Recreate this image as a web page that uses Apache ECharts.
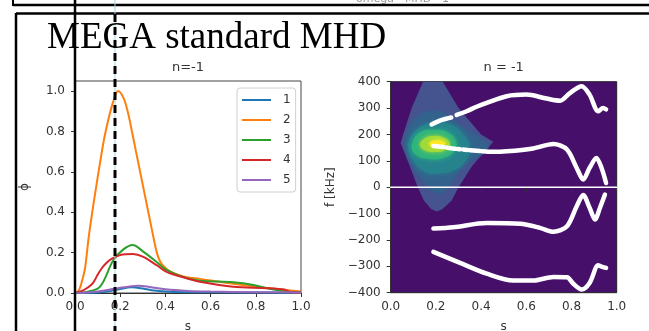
<!DOCTYPE html>
<html><head><meta charset="utf-8">
<script src="https://cdn.jsdelivr.net/npm/echarts@6/dist/echarts.min.js"></script>
<style>html,body{margin:0;padding:0;background:#fff;overflow:hidden}#c{width:649px;height:331px}</style>
</head><body><div id="c"></div>
<script>
// ---------- data ----------
const sTicks = [0, 0.2, 0.4, 0.6, 0.8, 1.0];
const phiTicks = [0, 0.2, 0.4, 0.6, 0.8, 1.0];
const fTicks = [-400, -300, -200, -100, 0, 100, 200, 300, 400];
const modeNames = ['1', '2', '3', '4', '5'];
const mode1 = [[0,0],[0.1,0.002],[0.15,0.008],[0.2,0.02],[0.25,0.028],[0.3,0.022],[0.35,0.012],[0.4,0.007],[0.5,0.004],[0.7,0.003],[1.0,0.001]];
const mode2 = [[0,0],[0.01,0.005],[0.02,0.02],[0.03,0.055],[0.044,0.12],[0.06,0.27],[0.075,0.39],[0.09,0.5],[0.11,0.64],[0.13,0.77],[0.15,0.87],[0.17,0.95],[0.19,1.0],[0.215,0.965],[0.235,0.89],[0.252,0.8],[0.27,0.7],[0.29,0.59],[0.31,0.48],[0.33,0.37],[0.35,0.26],[0.362,0.2],[0.375,0.16],[0.39,0.135],[0.41,0.115],[0.435,0.1],[0.494,0.078],[0.553,0.07],[0.7,0.046],[0.85,0.025],[1.0,0.008]];
const mode3 = [[0,0],[0.05,0.005],[0.11,0.03],[0.17,0.163],[0.214,0.216],[0.255,0.238],[0.302,0.205],[0.36,0.155],[0.405,0.114],[0.48,0.078],[0.553,0.061],[0.7,0.053],[0.79,0.04],[0.85,0.024],[0.93,0.008],[1.0,0.003]];
const mode4 = [[0,0],[0.03,0.01],[0.06,0.03],[0.08,0.05],[0.1,0.09],[0.12,0.125],[0.14,0.15],[0.16,0.168],[0.2,0.188],[0.257,0.193],[0.3,0.18],[0.36,0.139],[0.405,0.105],[0.494,0.073],[0.553,0.056],[0.7,0.031],[0.85,0.024],[0.93,0.016],[0.95,0.005],[1.0,0.002]];
const mode5 = [[0,0],[0.05,0.003],[0.1,0.008],[0.15,0.016],[0.2,0.026],[0.25,0.034],[0.28,0.036],[0.33,0.03],[0.4,0.018],[0.5,0.01],[0.6,0.007],[0.8,0.004],[1.0,0.002]];
const modes = [mode1, mode2, mode3, mode4, mode5];

// spectrum contour levels (s, f[kHz])
const level1 = [[0.143,400],[0.093,300],[0.055,200],[0.044,168],[0.08,90],[0.12,0],[0.147,-50],[0.18,-84],[0.204,-92],[0.228,-84],[0.27,-50],[0.30,0],[0.36,80],[0.454,172],[0.40,200],[0.30,300],[0.23,400]];
const level2 = [[0.18,288],[0.12,268],[0.08,222],[0.065,168],[0.085,100],[0.14,30],[0.21,-22],[0.27,20],[0.32,80],[0.43,150],[0.40,180],[0.30,240],[0.24,278]];
const level3 = [[0.21,246],[0.14,232],[0.09,192],[0.078,150],[0.10,100],[0.15,60],[0.21,52],[0.28,64],[0.33,100],[0.35,150],[0.32,202],[0.27,236]];
const level4 = [[0.19,218],[0.125,205],[0.095,165],[0.105,128],[0.16,108],[0.23,110],[0.28,135],[0.292,165],[0.26,205]];
const level5 = [[0.19,195],[0.145,182],[0.13,160],[0.15,140],[0.2,133],[0.25,145],[0.262,165],[0.235,188]];
const level6 = [[0.2,178],[0.172,168],[0.18,155],[0.21,152],[0.24,160],[0.238,172]];
const levels = [level1, level2, level3, level4, level5, level6];

// continuum branches (segments)
const branchUpper = [
  [[0.181,238],[0.2,246],[0.23,256],[0.268,264]],
  [[0.292,274],[0.336,288],[0.38,305],[0.425,320],[0.513,345],[0.60,351],[0.69,336],[0.75,328],[0.793,357],[0.845,383],[0.88,351],[0.918,288],[0.94,300],[0.953,295]]
];
const branchLowerPos = [
  [[0.189,156],[0.211,154],[0.233,152]],
  [[0.248,150],[0.265,148]],
  [[0.274,147],[0.285,146]],
  [[0.295,145],[0.307,144]],
  [[0.321,143],[0.339,141]],
  [[0.351,140],[0.395,137]],
  [[0.405,136],[0.45,134],[0.513,136],[0.63,147],[0.72,164],[0.78,143],[0.823,73],[0.852,29],[0.88,73],[0.91,111],[0.933,73],[0.953,16]]
];
const branchLowerNeg = [
  [[0.189,-157],[0.277,-152],[0.425,-136],[0.572,-139],[0.66,-154],[0.72,-169],[0.78,-148],[0.823,-72],[0.852,-30],[0.88,-78],[0.904,-122],[0.926,-78],[0.948,-28]]
];
const branchBottom = [
  [[0.189,-245],[0.307,-287],[0.425,-328],[0.543,-354],[0.63,-354],[0.72,-340],[0.78,-341],[0.808,-366],[0.845,-388],[0.88,-363],[0.918,-296],[0.93,-300],[0.953,-306]]
];
const zeroLine = [[0,0],[1,0]];

// ---------- styles ----------
const modeColors = ['#1f77b4','#ff7f0e','#2ca02c','#d62728','#9467bd'];
const levelColors = ['#45548f','#33638d','#26838e','#2fb47c','#a0da39','#fde725'];
const levelBlur = [0, 3, 5, 5, 5, 4];
const FONT = 'DejaVu Sans';
const TXT = '#333';

const chart = echarts.init(document.getElementById('c'), null, {renderer:'canvas'});

const tickLab = (ticks, fmt) => v => ticks.some(t => Math.abs(t - v) < 1e-9) ? fmt(v) : '';
const axisCommon = {
  axisLine: {show:true, lineStyle:{color:'#333', width:1}},
  axisTick: {show:true, length:4, lineStyle:{color:'#333'}},
  splitLine: {show:false},
  nameTextStyle: {fontFamily: FONT, fontSize: 12, color: TXT}
};
const labX = {fontFamily: FONT, fontSize: 12, color: TXT, margin: 8};
const labY = {fontFamily: FONT, fontSize: 12, color: TXT, margin: 10};

const series = [];
modes.forEach((m, i) => series.push({
  name: modeNames[i], type:'line', xAxisIndex:0, yAxisIndex:0, data:m,
  showSymbol:false, smooth:0.35, lineStyle:{color:modeColors[i], width:2}, itemStyle:{color:modeColors[i]}, silent:true
}));
series.push({
  type:'custom', xAxisIndex:1, yAxisIndex:1, silent:true,
  data: levels.map((lv, i) => [lv[0][0], lv[0][1], i]),
  renderItem: (params, api) => {
    const i = params.dataIndex;
    const lv = levels[i];
    return {type:'polygon', shape:{points: lv.map(p => api.coord(p)), smooth: i === 0 ? 0 : 0.45},
      style:{fill: levelColors[i], shadowBlur: levelBlur[i], shadowColor: levelColors[i]}};
  }, z:2
});
const whiteLine = (data, w) => ({type:'line', xAxisIndex:1, yAxisIndex:1, data, showSymbol:false, smooth:0.3,
  lineStyle:{color:'#fff', width:w, cap:'round'}, silent:true, z:3});
series.push(whiteLine(zeroLine, 1.5));
[branchUpper, branchLowerPos, branchLowerNeg, branchBottom].forEach(b => b.forEach(seg => series.push(whiteLine(seg, 4.5))));

chart.setOption({
  animation:false,
  backgroundColor:'#fff',
  grid:[
    {left:75, top:81, width:226, height:212, show:true, borderColor:'#444', borderWidth:1, backgroundColor:'transparent', outerBoundsMode:'none', containLabel:false},
    {left:390.7, top:81.7, width:226, height:211, show:true, borderColor:'#222', borderWidth:1, backgroundColor:'#46106a', outerBoundsMode:'none', containLabel:false}
  ],
  xAxis:[
    Object.assign({type:'value', gridIndex:0, min:0, max:1, interval:0.2, name:'s', nameLocation:'middle', nameGap:28,
      axisLabel:Object.assign({formatter: tickLab(sTicks, v => v.toFixed(1))}, labX)}, axisCommon),
    Object.assign({type:'value', gridIndex:1, min:0, max:1, interval:0.2, name:'s', nameLocation:'middle', nameGap:28,
      axisLabel:Object.assign({formatter: tickLab(sTicks, v => v.toFixed(1))}, labX)}, axisCommon)
  ],
  yAxis:[
    Object.assign({type:'value', gridIndex:0, min:0, max:1.05, interval:0.2, name:'ϕ', nameLocation:'middle', nameGap:44,
      axisLabel:Object.assign({formatter: tickLab(phiTicks, v => v.toFixed(1)), showMaxLabel:false}, labY)}, axisCommon),
    Object.assign({type:'value', gridIndex:1, min:-400, max:400, interval:100, name:'f [kHz]', nameLocation:'middle', nameGap:54,
      axisLabel:Object.assign({formatter: tickLab(fTicks, v => String(v).replace('-', '\u2212'))}, labY)}, axisCommon)
  ],
  legend:{
    data: modeNames, orient:'vertical', left:237, top:88, itemWidth:29, itemHeight:2, icon:'rect', itemGap:8,
    padding:[6,5,6,5], borderColor:'#d0d0d0', borderWidth:1, borderRadius:3, backgroundColor:'rgba(255,255,255,0.8)',
    textStyle:{fontFamily:FONT, fontSize:12, color:TXT, padding:[0,0,0,7]}, selectedMode:false
  },
  series,
  graphic:[
    {type:'text', x:356, y:-6, style:{text:'omega - MHD - 1', fontFamily:FONT, fontSize:11, fill:'#999'}, z:10},
    {type:'line', shape:{x1:13,y1:0,x2:13,y2:6}, style:{stroke:'#000', lineWidth:2}, z:10},
    {type:'line', shape:{x1:13,y1:5,x2:649,y2:5}, style:{stroke:'#000', lineWidth:2.5}, z:10},
    {type:'line', shape:{x1:16,y1:13.5,x2:649,y2:13.5}, style:{stroke:'#000', lineWidth:2.5}, z:10},
    {type:'line', shape:{x1:16,y1:13,x2:16,y2:331}, style:{stroke:'#000', lineWidth:2.5}, z:10},
    {type:'line', shape:{x1:75,y1:0,x2:75,y2:331}, style:{stroke:'#000', lineWidth:2.5}, z:10},
    {type:'line', shape:{x1:115,y1:0,x2:115,y2:331}, style:{stroke:'#9fd9e3', lineWidth:1}, z:10},
    {type:'line', shape:{x1:115,y1:14,x2:115,y2:331}, style:{stroke:'#000', lineWidth:3, lineDash:[8,5]}, z:11},
    {type:'text', x:47, y:38, style:{text:'MEGA standard MHD', fontFamily:'Liberation Serif', fontSize:37, fill:'#000', verticalAlign:'middle'}, z:12},
    {type:'text', x:188, y:68, style:{text:'n=-1', fontFamily:FONT, fontSize:13, fill:TXT, align:'center', verticalAlign:'middle'}, z:10},
    {type:'text', x:503.7, y:68, style:{text:'n = -1', fontFamily:FONT, fontSize:13, fill:TXT, align:'center', verticalAlign:'middle'}, z:10}
  ]
});
</script></body></html>
